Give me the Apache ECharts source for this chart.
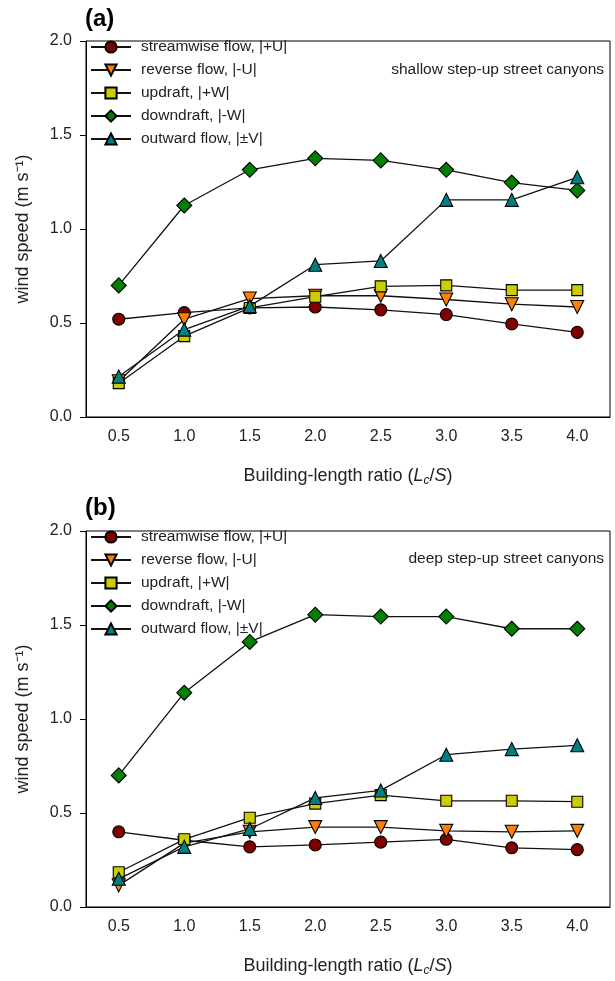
<!DOCTYPE html>
<html>
<head>
<meta charset="utf-8">
<script src="https://cdn.jsdelivr.net/npm/echarts@6/dist/echarts.min.js"></script>
<style>html,body{margin:0;padding:0;background:#fff}#c{width:615px;height:981px}</style>
</head>
<body>
<div id="c"></div>
<script>
const categories = ['0.5','1.0','1.5','2.0','2.5','3.0','3.5','4.0'];
const seriesNames = ['streamwise flow, |+U|','reverse flow, |-U|','updraft, |+W|','downdraft, |-W|','outward flow, |\u00b1V|'];
// panel (a) shallow
const aStream = [0.52,0.555,0.58,0.585,0.57,0.545,0.495,0.45];
const aReverse = [0.19,0.52,0.63,0.645,0.645,0.625,0.60,0.585];
const aUpdraft = [0.18,0.43,0.58,0.64,0.695,0.70,0.675,0.675];
const aDowndraft = [0.70,1.125,1.315,1.376,1.365,1.315,1.247,1.205];
const aOutward = [0.215,0.465,0.59,0.81,0.83,1.155,1.155,1.275];
// panel (b) deep
const bStream = [0.40,0.355,0.32,0.33,0.345,0.36,0.315,0.305];
const bReverse = [0.115,0.34,0.40,0.425,0.425,0.405,0.40,0.405];
const bUpdraft = [0.185,0.36,0.475,0.55,0.595,0.565,0.565,0.56];
const bDowndraft = [0.70,1.14,1.41,1.555,1.545,1.545,1.48,1.48];
const bOutward = [0.15,0.32,0.415,0.58,0.62,0.81,0.84,0.86];
const yTicks = [0,0.5,1.0,1.5,2.0];

const colors = ['#800000','#ff8000','#cccc00','#008000','#008080'];
const symbols = ['circle','triangle','rect','diamond','triangle'];
const rotations = [0,180,0,0,0];
const sizes = [12,13,11,15,13];
const FONT = 'Liberation Sans, Arial, sans-serif';

function mkSeries(data, idx, gi){
  return {
    name: seriesNames[idx], type:'line', data:data,
    xAxisIndex: gi, yAxisIndex: gi,
    symbol: symbols[idx], symbolSize: sizes[idx], symbolRotate: rotations[idx],
    showAllSymbol: true,
    lineStyle:{color:'#111', width:1.3},
    itemStyle:{color:colors[idx], borderColor:'#000', borderWidth:1.1},
    z: 2+idx, animation:false
  };
}
const grids = [{left:86, right:5, top:41, height:376, show:true, borderColor:'#000', borderWidth:1},
               {left:86, right:5, top:531, height:376, show:true, borderColor:'#000', borderWidth:1}];
function xAx(gi){
  return {type:'category', gridIndex:gi, data:categories, boundaryGap:true,
    axisLine:{lineStyle:{color:'#000',width:1}},
    axisTick:{alignWithLabel:true, length:6, lineStyle:{color:'#000'}},
    axisLabel:{color:'#222', fontSize:16, fontFamily:FONT, margin:12},
    name:'{n|Building-length ratio (}{i|L}{s|c}{n|/}{i|S}{n|)}',
    nameLocation:'middle', nameGap:48,
    nameTextStyle:{rich:{
      n:{fontSize:18, fontFamily:FONT, color:'#222'},
      i:{fontSize:18, fontFamily:FONT, fontStyle:'italic', color:'#222'},
      s:{fontSize:12, fontFamily:FONT, fontStyle:'italic', color:'#222', padding:[10,0,0,0]}
    }}
  };
}
function yAx(gi){
  return {type:'value', gridIndex:gi, min:0, max:2, interval:0.5,
    axisLine:{show:true, lineStyle:{color:'#000',width:1}},
    axisTick:{show:true, length:6, lineStyle:{color:'#000'}},
    splitLine:{show:false},
    axisLabel:{color:'#222', fontSize:16, fontFamily:FONT, margin:14, formatter:v=>v.toFixed(1)},
    name:'wind speed (m s\u207b\u00b9)', nameLocation:'middle', nameGap:54, nameRotate:90,
    nameTextStyle:{fontSize:18, fontFamily:FONT, color:'#222'}
  };
}
const legendBase = {orient:'vertical', left:90, padding:0, itemGap:5, itemWidth:40, itemHeight:14,
  textStyle:{fontSize:15.5, fontFamily:FONT, color:'#222', padding:[0,0,0,5], lineHeight:18},
  data:seriesNames, selectedMode:false};
const option = {
  animation:false,
  backgroundColor:'#fff',
  title:[
    {text:'(a)', left:80, top:2, textStyle:{fontSize:24, fontWeight:'bold', fontFamily:FONT, color:'#000'}},
    {text:'(b)', left:80, top:491, textStyle:{fontSize:24, fontWeight:'bold', fontFamily:FONT, color:'#000'}},
    {text:'shallow step-up street canyons', right:6, top:57, textStyle:{fontSize:15.5, fontWeight:'normal', fontFamily:FONT, color:'#222'}},
    {text:'deep step-up street canyons', right:6, top:546, textStyle:{fontSize:15.5, fontWeight:'normal', fontFamily:FONT, color:'#222'}}
  ],
  legend:[Object.assign({top:38}, legendBase), Object.assign({top:528}, legendBase)],
  grid:grids,
  xAxis:[xAx(0), xAx(1)],
  yAxis:[yAx(0), yAx(1)],
  series:[
    mkSeries(aStream,0,0), mkSeries(aReverse,1,0), mkSeries(aUpdraft,2,0), mkSeries(aDowndraft,3,0), mkSeries(aOutward,4,0),
    mkSeries(bStream,0,1), mkSeries(bReverse,1,1), mkSeries(bUpdraft,2,1), mkSeries(bDowndraft,3,1), mkSeries(bOutward,4,1)
  ]
};
const chart = echarts.init(document.getElementById('c'), null, {renderer:'canvas'});
chart.setOption(option);
</script>
</body>
</html>
